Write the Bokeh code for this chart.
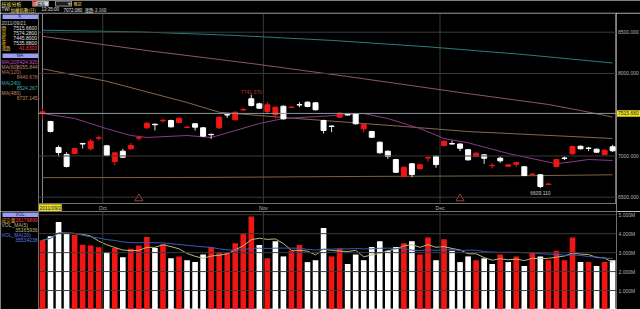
import pandas as pd
from bokeh.plotting import figure
from bokeh.layouts import column, row
from bokeh.models import Range1d, FixedTicker, Span, ColumnDataSource, CustomJSTickFormatter
from bokeh.core.properties import value
from bokeh.embed import file_html
from bokeh.resources import INLINE

# ---------------- data ----------------
first_date = "2011/09/21"
month_ticks = [7.5, 27.5, 49.5]
month_labels = ["Oct", "Nov", "Dec"]
price_ticks = [6500, 7000, 8000, 8500]
vol_ticks = [1, 2, 3, 4, 5]

opens = [7515.66, 7418, 7103, 7018, 7030, 7152, 7087, 7215, 7123, 6933,
         7058, 7087, 7216, 7341, 7385, 7427, 7430, 7406, 7346, 7390,
         7341, 7262, 7341, 7501, 7438, 7557, 7693, 7632, 7539, 7499,
         7603, 7589, 7622, 7652, 7644, 7430, 7363, 7470, 7501, 7511,
         7329, 7297, 7167, 7058, 6957, 6751, 6905, 6845, 6975, 6997,
         7127, 7150, 7145, 7076, 6994, 7014, 6882, 6973, 6876, 6900,
         6869, 6777, 6772, 6656, 6872, 6975, 7026, 7118, 7096, 7082,
         7018, 7111]
highs = [7574.28, 7425, 7127, 7046, 7100, 7158, 7208, 7248, 7135, 7045,
         7087, 7160, 7248, 7410, 7392, 7454, 7440, 7468, 7360, 7398,
         7350, 7268, 7480, 7511, 7540, 7587, 7741.37, 7645, 7652, 7600,
         7612, 7600, 7652, 7660, 7652, 7440, 7370, 7528, 7512, 7520,
         7390, 7305, 7175, 7065, 6965, 6872, 6915, 6903, 6990, 7005,
         7188, 7187, 7152, 7085, 7042, 7020, 6908, 6993, 6900, 6930,
         6878, 6790, 6780, 6670, 6966, 6995, 7125, 7126, 7110, 7090,
         7078, 7135]
lows = [7445.80, 7284, 6994, 6860, 7020, 7090, 7066, 7187, 6995, 6884,
        6975, 7075, 7187, 7330, 7309, 7405, 7345, 7398, 7340, 7309,
        7230, 7208, 7330, 7462, 7430, 7550, 7600, 7570, 7511, 7454,
        7440, 7585, 7591, 7590, 7550, 7272, 7288, 7460, 7490, 7380,
        7288, 7218, 7030, 6966, 6795, 6739, 6742, 6838, 6933, 6857,
        7118, 7140, 7058, 6945, 6985, 6905, 6848, 6917, 6870, 6864,
        6755, 6770, 6609.11, 6648, 6864, 6950, 7018, 7080, 7060, 7040,
        7010, 7050]
closes = [7535.88, 7297, 7042, 6872, 7090, 7145, 7179, 7222, 7006, 7038,
          6985, 7127, 7222, 7397, 7378, 7432, 7353, 7458, 7350, 7349,
          7240, 7258, 7470, 7497, 7530, 7561, 7612, 7579, 7620, 7591,
          7450, 7593, 7618, 7600, 7560, 7309, 7358, 7518, 7497, 7390,
          7381, 7227, 7038, 6994, 6803, 6864, 6775, 6893, 6980, 6896,
          7179, 7145, 7094, 6953, 7034, 6973, 6886, 6941, 6893, 6921,
          6763, 6781, 6630, 6660, 6957, 6971, 7115, 7087, 7092, 7046,
          7070, 7063]
volumes_m = [3.65, 3.86, 4.61, 4.00, 3.95, 3.42, 3.38, 3.29, 3.03, 3.24,
             2.75, 3.20, 3.38, 3.82, 3.24, 3.44, 2.70, 2.80, 2.60, 2.50,
             2.90, 3.30, 3.00, 3.00, 3.50, 4.00, 4.90, 3.40, 2.70, 3.60,
             2.80, 3.10, 3.40, 2.50, 2.60, 4.30, 2.80, 3.20, 2.40, 2.90,
             2.60, 3.30, 3.60, 3.10, 3.30, 3.50, 3.60, 2.90, 3.80, 2.60,
             3.70, 3.10, 2.50, 2.80, 2.60, 2.70, 2.40, 2.90, 2.50, 2.80,
             2.30, 3.00, 2.80, 2.60, 3.10, 2.60, 3.80, 2.50, 2.50, 2.30,
             2.50, 2.60]

ma20_idx = [0, 4, 8, 11, 13, 18, 21, 27, 30, 35, 40, 43, 47, 50, 53, 58, 64, 68, 71]
ma20_val = [7515, 7454, 7330, 7248, 7224, 7248, 7224, 7393, 7454, 7482,
            7515, 7454, 7333, 7212, 7160, 7030, 6905, 6957, 6945]
ma60_idx = [0, 8, 18, 22, 30, 35, 45, 53, 71]
ma60_val = [8055.8, 7905, 7648, 7530, 7466, 7430, 7357, 7296, 7212]
ma120_idx = [0, 13, 26, 38, 45, 52, 63, 67, 71]
ma120_val = [8449.7, 8278, 8121, 7963, 7866, 7769, 7624, 7551, 7471]
ma240_idx = [0, 12, 24, 36, 48, 60, 71]
ma240_val = [8524.3, 8503.6, 8461, 8400.6, 8323, 8228.5, 8126.7]
ma480_idx = [0, 20, 40, 60, 71]
ma480_val = [6737.1, 6740, 6752, 6760, 6772]

signal_idx = [12, 52]

side_price_rows = [("開", "7515.6600"), ("高", "7574.2800"), ("低", "7445.8000"),
                   ("收", "7535.8800"), ("漲跌", "41.8300")]
ma_legend = [("MA(20)", "7424.920"), ("MA(60)", "8055.844"), ("MA(120)", "8449.678"),
             ("MA(240)", "8524.267"), ("MA(480)", "6737.145")]
vol_legend = [("成交量", "26179899"), ("VOL_MA(5)", "35165936"), ("VOL_MA(20)", "35534238")]

# ---------------- styles ----------------
CJK = "Noto Sans CJK TC"
NUM = "Liberation Sans"
RED = "#f01616"
WHITE = "#ffffff"
GRID = "#3a3a3a"
FRAME = "#707070"
AXTXT = "#b4b4b4"
YEL = "#f0e020"
MA_COL = ["#8a3a8a", "#86664e", "#8e5a5a", "#2c7c7c", "#7c6440"]
MA_TXT = ["#c050c0", "#c08a6a", "#c07060", "#40a8a8", "#c09050"]
VMA5_COL = "#b8b878"
VMA20_COL = "#3a5ab8"

n = len(opens)
xs = list(range(n))
up = [c >= o for o, c in zip(opens, closes)]
prev = [opens[0]] + closes[:-1]
src = ColumnDataSource(dict(
    x=xs, o=opens, h=highs, l=lows, c=closes,
    top=[max(o, c) for o, c in zip(opens, closes)],
    bot=[min(o, c) for o, c in zip(opens, closes)],
    bc=[RED if u else WHITE for u in up],
    wc=[RED if u else "#e4e4e4" for u in up],
    v=volumes_m,
    vc=[RED if c >= p else WHITE for c, p in zip(closes, prev)],
))
vs = pd.Series(volumes_m)
vma5 = vs.rolling(5, min_periods=1).mean().tolist()
vma20 = vs.rolling(20, min_periods=1).mean().tolist()


def base_fig(**kw):
    f = figure(output_backend="svg", toolbar_location=None,
               background_fill_color="black", border_fill_color="black", **kw)
    f.grid.visible = False
    return f


PANEL_H = 198          # price panel incl. date band, in px
BAND_H = 8             # date band height, px
XR = Range1d(-0.5, 71.48)
YR = Range1d(6327, 8726.6)
PX = (YR.end - YR.start) / PANEL_H      # price units per pixel
band_top = YR.start + BAND_H * PX
band_mid = YR.start + BAND_H * PX / 2

# ---------------- header ----------------
hdr = base_fig(width=640, height=13, x_range=Range1d(0, 640), y_range=Range1d(13, 0),
               x_axis_type=None, y_axis_type=None, min_border=0, outline_line_color=None)
hdr.quad(left=[32], right=[48], top=[0.6], bottom=[5.6], fill_color="#d8d8d8", line_color="#909090")
hdr.quad(left=[32], right=[36], top=[0.6], bottom=[5.6], fill_color="#d02020", line_color=None)
hdr.quad(left=[55], right=[71], top=[0.6], bottom=[5.6], fill_color="#1c1c1c", line_color="#909090")
hdr.segment(x0=[0], y0=[12.6], x1=[640], y1=[12.6], line_color=FRAME, line_width=1)
hdr_texts = [(1, 3.1, "技術分析", "#f0e070", "5px", CJK),
             (32.5, 3.1, "自", "#ffffff", "4px", CJK),
             (36.5, 3.1, "選股", "#202020", "4px", CJK),
             (67, 3.1, "▼", "#a0a0a0", "4px", CJK),
             (73, 3.1, "確認", "#e8c840", "4px", CJK),
             (1, 9.2, "TWI", "#e0e0e0", "4.5px", NUM),
             (10, 9.2, "加權指數(日)", "#f0e070", "4.5px", CJK),
             (41, 9.2, "13:35:00", "#e0e0e0", "4.5px", NUM),
             (63, 9.2, "7072.080", "#e0e0e0", "4.5px", NUM),
             (84, 9.2, "漲跌-2.160", "#e0e0e0", "4.5px", CJK)]
for tx, ty, tt, tc, ts, tf in hdr_texts:
    hdr.text(x=[tx], y=[ty], text=[tt], text_color=tc, text_font=value(tf),
             text_font_size=ts, text_baseline="middle", text_align="left")

# ---------------- side panels ----------------
side_top = base_fig(width=38, height=198, x_range=Range1d(0, 38), y_range=Range1d(211, 13),
                    x_axis_type=None, y_axis_type=None, min_border=0, outline_line_color=None)
side_top.quad(left=[2, 2], right=[37.5, 37.5], top=[14, 53], bottom=[18.6, 57.6],
              fill_color="#9c9cf0", line_color=None)
side_top.text(x=[19.5, 19.5], y=[16.4, 55.4], text=["K", "MA"], text_color="#202060",
              text_font=value(NUM), text_font_size="4.5px", text_align="center", text_baseline="middle")
side_top.text(x=[1], y=[22.4], text=[first_date], text_color="#c8c8c8", text_font=value(NUM),
              text_font_size="5px", text_baseline="middle")
for k, (lab, val) in enumerate(side_price_rows):
    yy = 27.3 + 5.1 * k
    side_top.text(x=[1], y=[yy], text=[lab], text_color="#e8c040", text_font=value(CJK),
                  text_font_size="4.6px", text_baseline="middle")
    side_top.text(x=[36.5], y=[yy], text=[val], text_color=("#ff3030" if k == 4 else "#e0e0e0"),
                  text_font=value(NUM), text_font_size="5px", text_baseline="middle", text_align="right")
ma_rows_y = [(61.5, None), (66.0, None), (71.0, 76.0), (82.0, 87.2), (92.3, 97.3)]
for k, ((lab, val), (y1, y2)) in enumerate(zip(ma_legend, ma_rows_y)):
    side_top.text(x=[1], y=[y1], text=[lab], text_color=MA_TXT[k], text_font=value(NUM),
                  text_font_size="5px", text_baseline="middle")
    side_top.text(x=[37], y=[y2 if y2 else y1], text=[val], text_color=MA_TXT[k], text_font=value(NUM),
                  text_font_size="5px", text_baseline="middle", text_align="right")

side_bot = base_fig(width=38, height=98, x_range=Range1d(0, 38), y_range=Range1d(309, 211),
                    x_axis_type=None, y_axis_type=None, min_border=0, outline_line_color=None)
side_bot.quad(left=[2], right=[37.5], top=[212], bottom=[216.6], fill_color="#9c9cf0", line_color=None)
side_bot.text(x=[19.5], y=[214.4], text=["VOL"], text_color="#202060", text_font=value(NUM),
              text_font_size="4.5px", text_align="center", text_baseline="middle")
vrow_cols = ["#e8a040", VMA5_COL, "#5a7ae0"]
side_bot.text(x=[1], y=[219.3], text=[vol_legend[0][0]], text_color=vrow_cols[0], text_font=value(CJK),
              text_font_size="4.6px", text_baseline="middle")
side_bot.text(x=[37], y=[219.3], text=[vol_legend[0][1]], text_color="#ff4040", text_font=value(NUM),
              text_font_size="5px", text_baseline="middle", text_align="right")
for k, (yy1, yy2) in zip([1, 2], [(224.3, 229.3), (234.5, 239.5)]):
    side_bot.text(x=[1], y=[yy1], text=[vol_legend[k][0]], text_color=vrow_cols[k], text_font=value(NUM),
                  text_font_size="5px", text_baseline="middle")
    side_bot.text(x=[37], y=[yy2], text=[vol_legend[k][1]], text_color=vrow_cols[k], text_font=value(NUM),
                  text_font_size="5px", text_baseline="middle", text_align="right")

# ---------------- price panel (with date band at its bottom) ----------------
price = base_fig(width=578, height=PANEL_H, x_range=XR, y_range=YR,
                 x_axis_type=None, y_axis_type=None, min_border=0, outline_line_color=FRAME)
for t in price_ticks:
    price.add_layout(Span(location=t, dimension="width", line_color=GRID, line_width=1))
price.segment(x0=month_ticks, y0=[band_top] * len(month_ticks), x1=month_ticks,
              y1=[YR.end] * len(month_ticks), line_color=GRID, line_width=1)
price.add_layout(Span(location=opens[0], dimension="width", line_color="#8a9a9a", line_width=1))
price.segment(x0=[xs[0]], y0=[band_top], x1=[xs[0]], y1=[YR.end], line_color="#8a8a8a", line_width=1)

for (ix, iv), col in zip([(ma480_idx, ma480_val), (ma240_idx, ma240_val), (ma120_idx, ma120_val),
                          (ma60_idx, ma60_val), (ma20_idx, ma20_val)],
                         [MA_COL[4], MA_COL[3], MA_COL[2], MA_COL[1], MA_COL[0]]):
    price.line(ix, iv, line_color=col, line_width=1)

price.segment(x0="x", y0="l", x1="x", y1="h", line_color="wc", line_width=1, source=src)
price.vbar(x="x", top="top", bottom="bot", width=0.62, fill_color="bc", line_color="bc",
           line_width=1, source=src)

sig_y = [band_top + 5 * PX] * len(signal_idx)
price.scatter(signal_idx, sig_y, marker="triangle", size=8, fill_alpha=0,
              line_color="#a03a3a", line_width=1)

ih = max(range(n), key=lambda i: highs[i])
il = min(range(n), key=lambda i: lows[i])
price.text(x=[ih], y=[highs[ih]], text=[f"{highs[ih]:.3f}"], text_color="#c03030",
           text_font=value(NUM), text_font_size="5px", text_align="center",
           text_baseline="bottom", y_offset=-1)
price.text(x=[il], y=[lows[il]], text=[f"{lows[il]:.3f}"], text_color="#c8c8c8",
           text_font=value(NUM), text_font_size="5px", text_align="center",
           text_baseline="top", y_offset=3)

# date band
price.quad(left=[XR.start], right=[XR.end], bottom=[YR.start], top=[band_top],
           fill_color="black", line_color=None)
price.segment(x0=[XR.start], y0=[band_top], x1=[XR.end], y1=[band_top], line_color=FRAME, line_width=1)
price.quad(left=[XR.start], right=[XR.start + 2.9], bottom=[YR.start + 0.6 * PX],
           top=[band_top - 0.8 * PX], fill_color=YEL, line_color=None)
price.text(x=[XR.start], y=[band_mid], text=[first_date], x_offset=1, text_color="#202020",
           text_font=value(NUM), text_font_size="5px", text_baseline="middle", text_align="left")
price.text(x=month_ticks, y=[band_mid] * len(month_ticks), text=month_labels, text_color=AXTXT,
           text_font=value(NUM), text_font_size="5px", text_baseline="middle", text_align="center")

# price scale on the right (shares the y scale)
paxis = base_fig(width=24, height=PANEL_H, x_range=Range1d(0, 24), y_range=YR,
                 x_axis_type=None, y_axis_type=None, min_border=0, outline_line_color=None)
paxis.text(x=[1.5] * len(price_ticks), y=price_ticks, text=[f"{t:.3f}" for t in price_ticks],
           text_color=AXTXT, text_font=value(NUM), text_font_size="5px",
           text_baseline="middle", text_align="left")
paxis.rect(x=[12.2], y=[opens[0]], width=[23.6], height=[6.5], height_units="screen",
           fill_color=YEL, line_color=None)
paxis.text(x=[1.5], y=[opens[0]], text=[f"{opens[0]:.3f}"], text_color="#202020",
           text_font=value(NUM), text_font_size="5px", text_baseline="middle", text_align="left")

# ---------------- volume panel ----------------
vol = base_fig(width=602, height=98, x_range=XR, y_range=Range1d(0, 5.17),
               y_axis_location="right", x_axis_type=None, min_border_left=0, min_border_top=0,
               min_border_bottom=0, min_border_right=24, outline_line_color=FRAME)
for t in vol_ticks:
    vol.add_layout(Span(location=t, dimension="width", line_color=GRID, line_width=1))
for t in month_ticks:
    vol.add_layout(Span(location=t, dimension="height", line_color=GRID, line_width=1))
vol.vbar(x="x", top="v", bottom=0, width=0.7, fill_color="vc", line_color=None, source=src)
vol.line(xs, vma5, line_color=VMA5_COL, line_width=1)
vol.line(xs, vma20, line_color=VMA20_COL, line_width=1)
vy = vol.yaxis[0]
vy.ticker = FixedTicker(ticks=vol_ticks)
vy.formatter = CustomJSTickFormatter(code="return tick.toFixed(3) + 'M';")
vy.major_label_text_font_size = "5px"
vy.major_label_text_font = NUM
vy.major_label_text_color = AXTXT
vy.major_tick_out = 0
vy.major_tick_in = 0
vy.minor_tick_out = 0
vy.minor_tick_in = 0
vy.axis_line_color = FRAME
vy.major_label_standoff = 2

layout = column(hdr,
                row(side_top, price, paxis),
                row(side_bot, vol))
open("out.html", "w").write(file_html(layout, INLINE))
